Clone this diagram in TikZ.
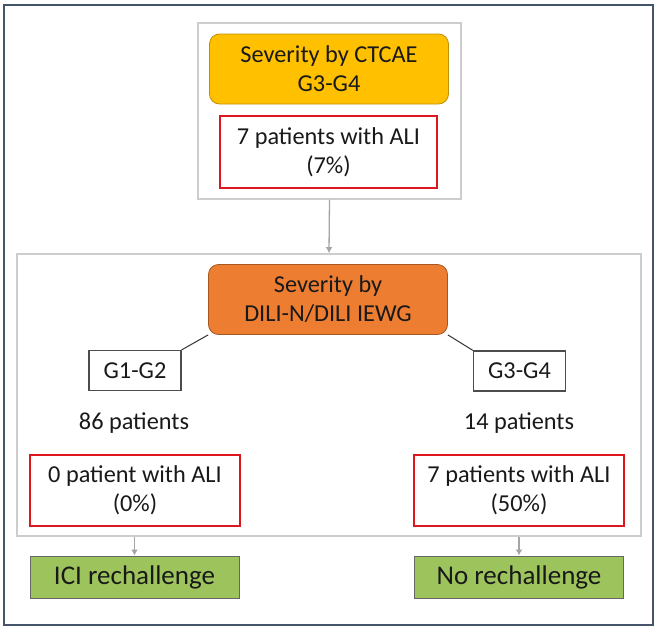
\documentclass[tikz,border=0pt]{standalone}
\usepackage{fontspec}
\setmainfont{Carlito}
\usepackage{tikz}
\usetikzlibrary{positioning,calc,arrows.meta}

\definecolor{framecol}{RGB}{68,84,106}
\definecolor{grpcol}{RGB}{205,205,205}
\definecolor{ctcaecol}{RGB}{255,192,0}
\definecolor{dilicol}{RGB}{237,125,49}
\definecolor{alicol}{RGB}{222,22,30}
\definecolor{rechcol}{RGB}{157,195,92}
\definecolor{arrcol}{RGB}{165,165,165}

\begin{document}
\begin{tikzpicture}[x=1pt,y=-1pt,
	every node/.style={font=\fontsize{24.3}{29}\selectfont, align=center, inner sep=0pt, text=black!90},
	grpbox/.style={draw=grpcol, line width=1.8pt},
	sevbox/.style={rounded corners=10pt, line width=0.8pt, minimum width=239, minimum height=70},
	alibox/.style={draw=alicol, line width=2.6pt, fill=white, minimum width=210, minimum height=71},
	gradebox/.style={draw=black!70, line width=1.2pt, fill=white, minimum width=92, minimum height=40},
	rechbox/.style={draw=black!60, fill=rechcol, line width=1pt, minimum width=209, minimum height=42, font=\fontsize{27}{32}\selectfont},
	grayarrow/.style={draw=arrcol, line width=1.3pt, -{Latex[length=6pt,width=7pt]}}]
				\useasboundingbox (0,0) rectangle (659,632);
				\draw[framecol, line width=1.6pt] (4,5) rectangle (653,625);
				% top group: CTCAE
				\node[grpbox, minimum width=263, minimum height=176] (topgrp) at (329.5,111) {};
				\node[sevbox, draw=ctcaecol!75!black, fill=ctcaecol] (ctcae) at (329,69) {Severity by CTCAE\\G3-G4};
				\node[alibox, minimum width=217, minimum height=72] (ali7) at (328.5,152) {7 patients with ALI\\(7\%)};
				% bottom group: DILI-N / DILI IEWG
				\node[grpbox, minimum width=624, minimum height=282] (botgrp) at (329,395) {};
				\node[sevbox, draw=dilicol!70!black, fill=dilicol] (dili) at (328,299.5) {Severity by\\DILI-N/DILI IEWG};
				\node[gradebox] (g12) at (135,370.5) {G1-G2};
				\node[gradebox] (g34) at (519.5,371) {G3-G4};
				\node (n86) at (134,423) {86 patients};
				\node (n14) at (519,423) {14 patients};
				\node[alibox] (ali0) at (135,490.5) {0 patient with ALI\\(0\%)};
				\node[alibox] (ali50) at (519,490.5) {7 patients with ALI\\(50\%)};
				% outcome
				\node[rechbox] (rech) at (134.5,577) {ICI rechallenge};
				\node[rechbox] (norech) at (519,577) {No rechallenge};
				\draw[grayarrow] (topgrp.south) -- (botgrp.north);
				\draw[black!80, line width=1pt] (dili.south west) -- (g12.north east);
				\draw[black!80, line width=1pt] (dili.south east) -- (g34.north west);
				\draw[grayarrow] (botgrp.south -| rech.north) -- (rech.north);
				\draw[grayarrow] (botgrp.south -| norech.north) -- (norech.north);
\end{tikzpicture}
\end{document}
